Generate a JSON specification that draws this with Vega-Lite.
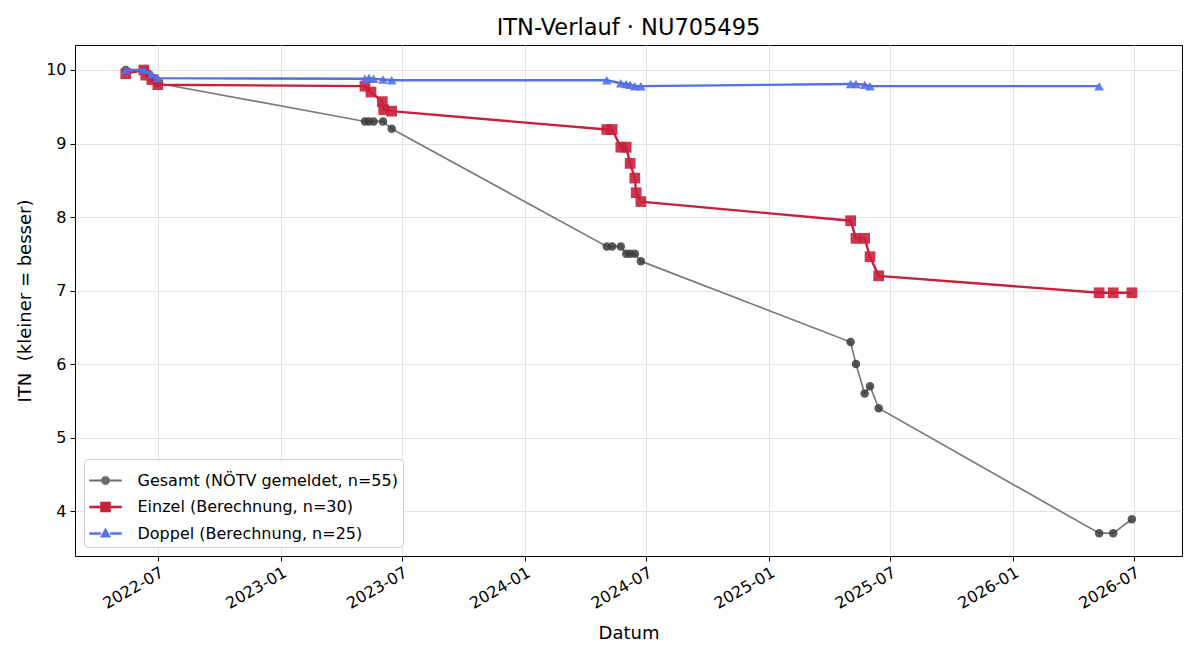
{
  "$schema": "https://vega.github.io/schema/vega-lite/v6.json",
  "autosize": {"type": "none"},
  "width": 1107,
  "height": 511,
  "padding": {"left": 75, "top": 45, "right": 18, "bottom": 104},
  "background": "white",
  "title": {"text": "ITN-Verlauf · NU705495", "fontSize": 22.5, "fontWeight": "normal", "font": "DejaVu Sans", "color": "black", "offset": 6},
  "config": {
    "font": "DejaVu Sans",
    "view": {"stroke": "black", "strokeWidth": 1},
    "axis": {
      "domain": false, "tickColor": "black", "tickSize": 5, "tickWidth": 1,
      "labelFont": "DejaVu Sans", "labelFontSize": 16, "labelColor": "black",
      "titleFont": "DejaVu Sans", "titleFontSize": 18, "titleFontWeight": "normal", "titleColor": "black",
      "gridColor": "#e3e3e3", "gridWidth": 1
    }
  },
  "data": {
    "values": [
      {"series": "Gesamt (NÖTV gemeldet, n=55)", "date": "2022-05-14", "itn": 10.0},
      {"series": "Gesamt (NÖTV gemeldet, n=55)", "date": "2022-06-10", "itn": 10.0},
      {"series": "Gesamt (NÖTV gemeldet, n=55)", "date": "2022-06-22", "itn": 9.9},
      {"series": "Gesamt (NÖTV gemeldet, n=55)", "date": "2022-07-01", "itn": 9.82},
      {"series": "Gesamt (NÖTV gemeldet, n=55)", "date": "2023-05-07", "itn": 9.3},
      {"series": "Gesamt (NÖTV gemeldet, n=55)", "date": "2023-05-13", "itn": 9.3},
      {"series": "Gesamt (NÖTV gemeldet, n=55)", "date": "2023-05-20", "itn": 9.3},
      {"series": "Gesamt (NÖTV gemeldet, n=55)", "date": "2023-06-03", "itn": 9.3},
      {"series": "Gesamt (NÖTV gemeldet, n=55)", "date": "2023-06-16", "itn": 9.2},
      {"series": "Gesamt (NÖTV gemeldet, n=55)", "date": "2024-05-03", "itn": 7.6},
      {"series": "Gesamt (NÖTV gemeldet, n=55)", "date": "2024-05-11", "itn": 7.6},
      {"series": "Gesamt (NÖTV gemeldet, n=55)", "date": "2024-05-24", "itn": 7.6},
      {"series": "Gesamt (NÖTV gemeldet, n=55)", "date": "2024-06-01", "itn": 7.5},
      {"series": "Gesamt (NÖTV gemeldet, n=55)", "date": "2024-06-07", "itn": 7.5},
      {"series": "Gesamt (NÖTV gemeldet, n=55)", "date": "2024-06-14", "itn": 7.5},
      {"series": "Gesamt (NÖTV gemeldet, n=55)", "date": "2024-06-23", "itn": 7.4},
      {"series": "Gesamt (NÖTV gemeldet, n=55)", "date": "2025-05-03", "itn": 6.3},
      {"series": "Gesamt (NÖTV gemeldet, n=55)", "date": "2025-05-11", "itn": 6.0},
      {"series": "Gesamt (NÖTV gemeldet, n=55)", "date": "2025-05-24", "itn": 5.6},
      {"series": "Gesamt (NÖTV gemeldet, n=55)", "date": "2025-06-01", "itn": 5.7},
      {"series": "Gesamt (NÖTV gemeldet, n=55)", "date": "2025-06-14", "itn": 5.4},
      {"series": "Gesamt (NÖTV gemeldet, n=55)", "date": "2026-05-10", "itn": 3.7},
      {"series": "Gesamt (NÖTV gemeldet, n=55)", "date": "2026-05-31", "itn": 3.7},
      {"series": "Gesamt (NÖTV gemeldet, n=55)", "date": "2026-06-28", "itn": 3.89},

      {"series": "Einzel (Berechnung, n=30)", "date": "2022-05-14", "itn": 9.95},
      {"series": "Einzel (Berechnung, n=30)", "date": "2022-06-10", "itn": 10.0},
      {"series": "Einzel (Berechnung, n=30)", "date": "2022-06-13", "itn": 9.93},
      {"series": "Einzel (Berechnung, n=30)", "date": "2022-06-22", "itn": 9.87},
      {"series": "Einzel (Berechnung, n=30)", "date": "2022-07-01", "itn": 9.8},
      {"series": "Einzel (Berechnung, n=30)", "date": "2023-05-07", "itn": 9.78},
      {"series": "Einzel (Berechnung, n=30)", "date": "2023-05-16", "itn": 9.7},
      {"series": "Einzel (Berechnung, n=30)", "date": "2023-06-02", "itn": 9.57},
      {"series": "Einzel (Berechnung, n=30)", "date": "2023-06-04", "itn": 9.46},
      {"series": "Einzel (Berechnung, n=30)", "date": "2023-06-16", "itn": 9.44},
      {"series": "Einzel (Berechnung, n=30)", "date": "2024-05-03", "itn": 9.19},
      {"series": "Einzel (Berechnung, n=30)", "date": "2024-05-11", "itn": 9.19},
      {"series": "Einzel (Berechnung, n=30)", "date": "2024-05-24", "itn": 8.95},
      {"series": "Einzel (Berechnung, n=30)", "date": "2024-06-01", "itn": 8.95},
      {"series": "Einzel (Berechnung, n=30)", "date": "2024-06-07", "itn": 8.73},
      {"series": "Einzel (Berechnung, n=30)", "date": "2024-06-14", "itn": 8.53},
      {"series": "Einzel (Berechnung, n=30)", "date": "2024-06-16", "itn": 8.33},
      {"series": "Einzel (Berechnung, n=30)", "date": "2024-06-23", "itn": 8.21},
      {"series": "Einzel (Berechnung, n=30)", "date": "2025-05-03", "itn": 7.95},
      {"series": "Einzel (Berechnung, n=30)", "date": "2025-05-11", "itn": 7.71},
      {"series": "Einzel (Berechnung, n=30)", "date": "2025-05-24", "itn": 7.71},
      {"series": "Einzel (Berechnung, n=30)", "date": "2025-06-01", "itn": 7.46},
      {"series": "Einzel (Berechnung, n=30)", "date": "2025-06-14", "itn": 7.2},
      {"series": "Einzel (Berechnung, n=30)", "date": "2026-05-10", "itn": 6.97},
      {"series": "Einzel (Berechnung, n=30)", "date": "2026-05-31", "itn": 6.97},
      {"series": "Einzel (Berechnung, n=30)", "date": "2026-06-28", "itn": 6.97},

      {"series": "Doppel (Berechnung, n=25)", "date": "2022-05-14", "itn": 10.0},
      {"series": "Doppel (Berechnung, n=25)", "date": "2022-06-10", "itn": 10.0},
      {"series": "Doppel (Berechnung, n=25)", "date": "2022-06-22", "itn": 9.94},
      {"series": "Doppel (Berechnung, n=25)", "date": "2022-07-01", "itn": 9.89},
      {"series": "Doppel (Berechnung, n=25)", "date": "2023-05-07", "itn": 9.88},
      {"series": "Doppel (Berechnung, n=25)", "date": "2023-05-13", "itn": 9.89},
      {"series": "Doppel (Berechnung, n=25)", "date": "2023-05-20", "itn": 9.88},
      {"series": "Doppel (Berechnung, n=25)", "date": "2023-06-03", "itn": 9.87},
      {"series": "Doppel (Berechnung, n=25)", "date": "2023-06-16", "itn": 9.86},
      {"series": "Doppel (Berechnung, n=25)", "date": "2024-05-03", "itn": 9.86},
      {"series": "Doppel (Berechnung, n=25)", "date": "2024-05-24", "itn": 9.82},
      {"series": "Doppel (Berechnung, n=25)", "date": "2024-06-01", "itn": 9.81},
      {"series": "Doppel (Berechnung, n=25)", "date": "2024-06-07", "itn": 9.8},
      {"series": "Doppel (Berechnung, n=25)", "date": "2024-06-14", "itn": 9.78},
      {"series": "Doppel (Berechnung, n=25)", "date": "2024-06-23", "itn": 9.78},
      {"series": "Doppel (Berechnung, n=25)", "date": "2025-05-03", "itn": 9.81},
      {"series": "Doppel (Berechnung, n=25)", "date": "2025-05-11", "itn": 9.81},
      {"series": "Doppel (Berechnung, n=25)", "date": "2025-05-24", "itn": 9.8},
      {"series": "Doppel (Berechnung, n=25)", "date": "2025-06-01", "itn": 9.78},
      {"series": "Doppel (Berechnung, n=25)", "date": "2026-05-10", "itn": 9.78}
    ]
  },
  "encoding": {
    "x": {
      "field": "date", "type": "temporal",
      "scale": {"domain": [{"year": 2022, "month": 2, "date": 27}, {"year": 2026, "month": 9, "date": 11}]},
      "axis": {
        "title": "Datum", "titlePadding": 13, "format": "%Y-%m", "labelAngle": -30, "labelAlign": "right", "labelBaseline": "top", "labelPadding": 3,
        "values": [
          {"year": 2022, "month": 7, "date": 1}, {"year": 2023, "month": 1, "date": 1},
          {"year": 2023, "month": 7, "date": 1}, {"year": 2024, "month": 1, "date": 1},
          {"year": 2024, "month": 7, "date": 1}, {"year": 2025, "month": 1, "date": 1},
          {"year": 2025, "month": 7, "date": 1}, {"year": 2026, "month": 1, "date": 1},
          {"year": 2026, "month": 7, "date": 1}
        ]
      }
    },
    "y": {
      "field": "itn", "type": "quantitative",
      "scale": {"domain": [3.39, 10.34], "nice": false, "zero": false},
      "axis": {"title": "ITN\u00a0 (kleiner = besser)", "values": [4, 5, 6, 7, 8, 9, 10], "labelPadding": 4, "titlePadding": 11}
    }
  },
  "layer": [
    {
      "transform": [{"filter": {"field": "series", "equal": "Gesamt (NÖTV gemeldet, n=55)"}}],
      "mark": {"type": "line", "strokeWidth": 1.7},
      "encoding": {
        "color": {
          "field": "series", "type": "nominal",
          "scale": {
            "domain": ["Gesamt (NÖTV gemeldet, n=55)", "Einzel (Berechnung, n=30)", "Doppel (Berechnung, n=25)"],
            "range": ["#7b7b7b", "#c8203c", "#5470e6"]
          },
          "legend": {
            "title": null, "orient": "bottom-left", "offset": 9,
            "symbolSize": 1024, "symbolStrokeWidth": 0.5, "symbolOffset": 0,
            "labelFont": "DejaVu Sans", "labelFontSize": 16, "labelColor": "black", "labelOffset": 15.5, "labelLimit": 500,
            "rowPadding": 1.5, "padding": 5,
            "strokeColor": "#cccccc", "fillColor": "rgba(255,255,255,0.85)", "cornerRadius": 4,
            "encode": {
              "symbols": {
                "update": {
                  "shape": {"signal": "datum.index === 0 ? 'M-1,-0.05H-0.27V0.05H-1Z M0.27,-0.05H1V0.05H0.27Z M-0.27,0A0.27,0.27 0 1,1 0.27,0A0.27,0.27 0 1,1 -0.27,0Z' : datum.index === 1 ? 'M-1,-0.07H-0.32V0.07H-1Z M0.32,-0.07H1V0.07H0.32Z M-0.32,-0.32H0.32V0.32H-0.32Z' : 'M-1,-0.07H-0.3V0.07H-1Z M0.3,-0.07H1V0.07H0.3Z M0,-0.34L0.32,0.23H-0.32Z'"},
                  "fill": {"signal": "datum.index === 0 ? '#6a6a6a' : datum.index === 1 ? '#c8203c' : '#5470e6'"},
                  "stroke": {"signal": "datum.index === 0 ? '#6a6a6a' : datum.index === 1 ? '#c8203c' : '#5470e6'"}
                }
              }
            }
          }
        }
      }
    },
    {
      "transform": [{"filter": {"field": "series", "equal": "Gesamt (NÖTV gemeldet, n=55)"}}],
      "mark": {"type": "point", "shape": "circle", "filled": true, "size": 72, "color": "#3c3c3c", "opacity": 0.85}
    },
    {
      "transform": [{"filter": {"field": "series", "equal": "Einzel (Berechnung, n=30)"}}],
      "mark": {"type": "line", "strokeWidth": 2.4},
      "encoding": {"color": {"field": "series", "type": "nominal"}}
    },
    {
      "transform": [{"filter": {"field": "series", "equal": "Einzel (Berechnung, n=30)"}}],
      "mark": {"type": "point", "shape": "square", "filled": true, "size": 115, "color": "#c8203c", "opacity": 0.9}
    },
    {
      "transform": [{"filter": {"field": "series", "equal": "Doppel (Berechnung, n=25)"}}],
      "mark": {"type": "line", "strokeWidth": 2.4},
      "encoding": {"color": {"field": "series", "type": "nominal"}}
    },
    {
      "transform": [{"filter": {"field": "series", "equal": "Doppel (Berechnung, n=25)"}}],
      "mark": {"type": "point", "shape": "triangle-up", "filled": true, "size": 95, "color": "#5470e6", "opacity": 0.9}
    }
  ]
}
